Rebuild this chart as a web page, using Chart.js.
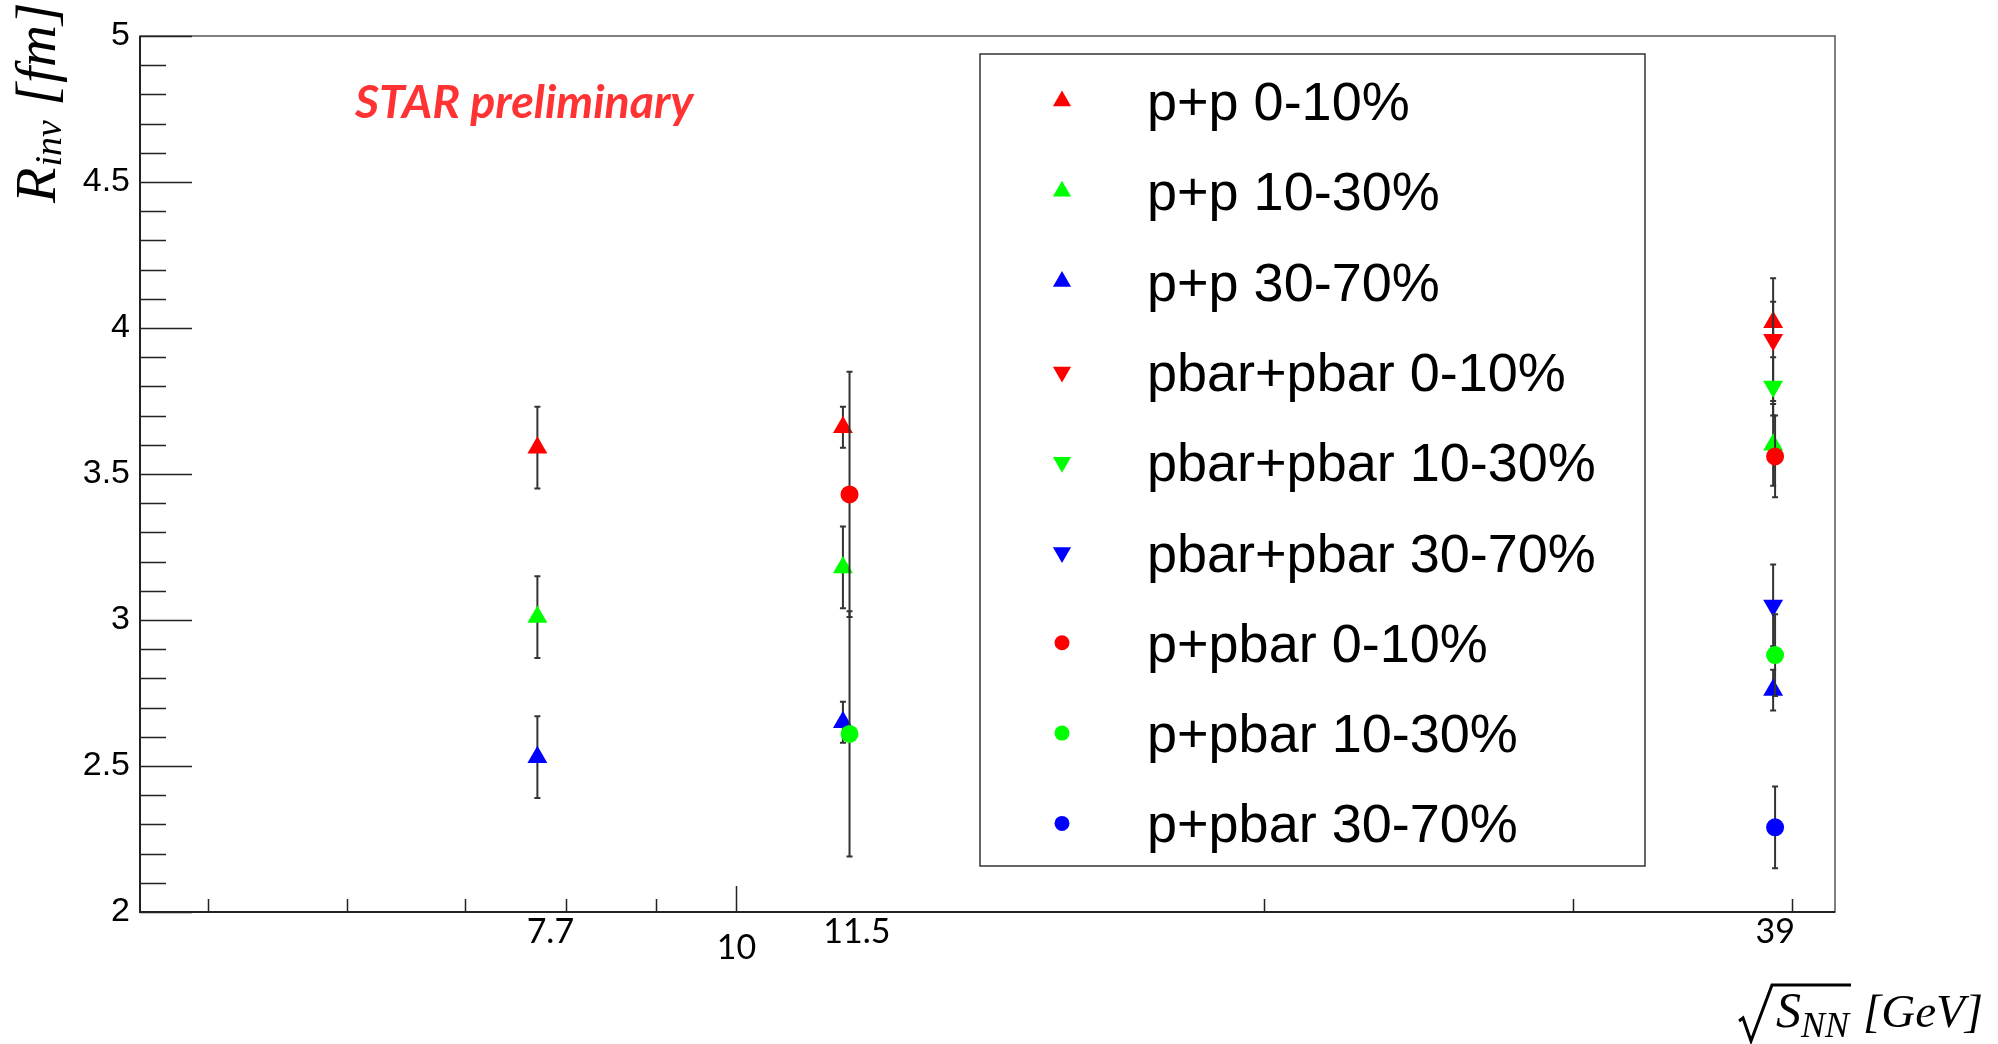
<!DOCTYPE html>
<html>
<head>
<meta charset="utf-8">
<script src="https://cdn.jsdelivr.net/npm/chart.js@4.4.1/dist/chart.umd.min.js"></script>
<style>
  html, body { margin: 0; padding: 0; background: #fff; }
  #wrap { width: 1998px; height: 1044px; }
</style>
</head>
<body>
<div id="wrap"><canvas id="rinv" width="1998" height="1044"></canvas></div>
<script>
// Collision energies (GeV) per pair type; p+pbar is nudged right so it doesn't hide behind p+p
const ppEnergies = [7.7, 11.5, 39];
const pbarEnergies = [39];
const ppbarEnergies = [11.6, 39.1];

// R_inv (fm) and errors
const pp0to10 = [3.59, 3.66, 4.02];
const pp0to10Err = [0.14, 0.07, 0.07];
const pp10to30 = [3.01, 3.18, 3.60];
const pp10to30Err = [0.14, 0.14, 0.14];
const pp30to70 = [2.53, 2.65, 2.76];
const pp30to70Err = [0.14, 0.07, 0.07];

const pbar0to10 = [3.96];
const pbar0to10Err = [0.21];
const pbar10to30 = [3.80];
const pbar10to30Err = [0.10];
const pbar30to70 = [3.05];
const pbar30to70Err = [0.14];

const ppbar0to10 = [3.43, 3.56];
const ppbar0to10Err = [0.42, 0.14];
const ppbar10to30 = [2.61, 2.88];
const ppbar10to30Err = [0.42, 0.14];
const ppbar30to70 = [null, 2.29];
const ppbar30to70Err = [null, 0.14];

// x axis labelling (log axis)
const energyLabels = ['7.7', '11.5', '39'];
const energyLabelShift = [13, 14, 2];
const decadeLabels = [10];
const xMinorTicks = [5, 6, 7, 8, 9, 20, 30, 40];

const RED = '#ff0000';
const GREEN = '#00ff00';
const BLUE = '#0000ff';

const series = [
  { label: 'p+p 0-10%', x: ppEnergies, y: pp0to10, err: pp0to10Err, color: RED, style: 'triangle', rot: 0 },
  { label: 'p+p 10-30%', x: ppEnergies, y: pp10to30, err: pp10to30Err, color: GREEN, style: 'triangle', rot: 0 },
  { label: 'p+p 30-70%', x: ppEnergies, y: pp30to70, err: pp30to70Err, color: BLUE, style: 'triangle', rot: 0 },
  { label: 'pbar+pbar 0-10%', x: pbarEnergies, y: pbar0to10, err: pbar0to10Err, color: RED, style: 'triangle', rot: 180 },
  { label: 'pbar+pbar 10-30%', x: pbarEnergies, y: pbar10to30, err: pbar10to30Err, color: GREEN, style: 'triangle', rot: 180 },
  { label: 'pbar+pbar 30-70%', x: pbarEnergies, y: pbar30to70, err: pbar30to70Err, color: BLUE, style: 'triangle', rot: 180 },
  { label: 'p+pbar 0-10%', x: ppbarEnergies, y: ppbar0to10, err: ppbar0to10Err, color: RED, style: 'circle', rot: 0 },
  { label: 'p+pbar 10-30%', x: ppbarEnergies, y: ppbar10to30, err: ppbar10to30Err, color: GREEN, style: 'circle', rot: 0 },
  { label: 'p+pbar 30-70%', x: ppbarEnergies, y: ppbar30to70, err: ppbar30to70Err, color: BLUE, style: 'circle', rot: 0 },
];

const datasets = series.map((s, i) => ({
  label: s.label,
  data: s.x.map((e, k) => ({ x: e, y: s.y[k] })),
  errors: s.err,
  pointStyle: s.style,
  rotation: s.rot,
  pointRadius: s.style === 'circle' ? 9 : 11.5,
  backgroundColor: s.color,
  borderColor: s.color,
  borderWidth: 0,
  showLine: false,
  // later series are painted on top
  order: -i,
}));

const SANS = '"Liberation Sans", Arial, sans-serif';
const SERIF = '"Liberation Serif", "DejaVu Serif", serif';

// Vertical error bars with small caps, drawn just before each series' markers
const errorBars = {
  id: 'errorBars',
  beforeDatasetDraw(chart, args) {
    const ds = chart.data.datasets[args.index];
    const yScale = chart.scales.y;
    const { ctx } = chart;
    ctx.save();
    ctx.strokeStyle = '#333';
    ctx.lineWidth = 2;
    args.meta.data.forEach((pt, k) => {
      const raw = ds.data[k];
      if (raw.y == null || ds.errors[k] == null) return;
      const top = yScale.getPixelForValue(raw.y + ds.errors[k]);
      const bot = yScale.getPixelForValue(raw.y - ds.errors[k]);
      ctx.beginPath();
      ctx.moveTo(pt.x, top);
      ctx.lineTo(pt.x, bot);
      ctx.moveTo(pt.x - 3, top);
      ctx.lineTo(pt.x + 3, top);
      ctx.moveTo(pt.x - 3, bot);
      ctx.lineTo(pt.x + 3, bot);
      ctx.stroke();
    });
    ctx.restore();
  },
};

// Frame, inward ticks and x labels
const frame = {
  id: 'frame',
  beforeDatasetsDraw(chart) {
    const { ctx, chartArea: a, scales: { x, y } } = chart;
    ctx.save();
    ctx.strokeStyle = '#555';
    ctx.lineWidth = 1.5;
    ctx.strokeRect(a.left, a.top, a.right - a.left, a.bottom - a.top);
    ctx.strokeStyle = '#222';
    ctx.lineWidth = 2;
    ctx.beginPath();
    ctx.moveTo(a.left, a.top);
    ctx.lineTo(a.left, a.bottom);
    ctx.lineTo(a.right, a.bottom);
    ctx.stroke();

    // y ticks: major every 0.5, minor every 0.1
    ctx.lineWidth = 1.5;
    ctx.beginPath();
    for (let k = 0; k <= 30; k += 1) {
      const py = Math.round(y.getPixelForValue(y.min + k * 0.1)) + 0.5;
      const len = k % 5 === 0 ? 52 : 26;
      ctx.moveTo(a.left, py);
      ctx.lineTo(a.left + len, py);
    }
    // x ticks on the log axis
    xMinorTicks.forEach((v) => {
      const px = Math.round(x.getPixelForValue(v)) + 0.5;
      ctx.moveTo(px, a.bottom);
      ctx.lineTo(px, a.bottom - 13);
    });
    decadeLabels.forEach((v) => {
      const px = Math.round(x.getPixelForValue(v)) + 0.5;
      ctx.moveTo(px, a.bottom);
      ctx.lineTo(px, a.bottom - 26);
    });
    ctx.stroke();

    ctx.fillStyle = '#000';
    ctx.textAlign = 'center';
    ctx.textBaseline = 'alphabetic';
    ctx.font = '34px Lato, "Open Sans", sans-serif';
    ppEnergies.forEach((e, k) => {
      ctx.fillText(energyLabels[k], x.getPixelForValue(e) + energyLabelShift[k], a.bottom + 31);
    });
    decadeLabels.forEach((v) => {
      ctx.fillText(String(v), x.getPixelForValue(v), a.bottom + 47);
    });
    ctx.restore();
  },
  afterDraw(chart) {
    const { ctx } = chart;
    ctx.save();

    // STAR preliminary tag
    ctx.fillStyle = '#ff3333';
    ctx.font = 'italic bold 46.5px Lato, "Open Sans", sans-serif';
    ctx.textAlign = 'left';
    ctx.textBaseline = 'alphabetic';
    ctx.fillText('STAR preliminary', 355, 118);

    // Legend box
    const box = { x: 980, y: 54, w: 665, h: 812 };
    ctx.fillStyle = '#fff';
    ctx.fillRect(box.x, box.y, box.w, box.h);
    ctx.strokeStyle = '#333';
    ctx.lineWidth = 1.5;
    ctx.strokeRect(box.x, box.y, box.w, box.h);
    ctx.font = `54px ${SANS}`;
    chart.data.datasets.forEach((ds, i) => {
      const cy = 101 + i * 90.3;
      ctx.fillStyle = ds.backgroundColor;
      Chart.helpers.drawPoint(ctx, {
        pointStyle: ds.pointStyle,
        rotation: ds.rotation,
        radius: ds.pointStyle === 'circle' ? 7.5 : 10.5,
        borderWidth: 0,
      }, 1062, cy);
      ctx.fillStyle = '#000';
      ctx.fillText(ds.label, 1147, cy + 19);
    });

    // y title: R_inv [fm], rotated
    ctx.fillStyle = '#000';
    ctx.translate(55, 203);
    ctx.rotate(-Math.PI / 2);
    let u = 0;
    ctx.font = `italic 58px ${SERIF}`;
    ctx.fillText('R', u, 0);
    u += ctx.measureText('R').width + 1;
    ctx.font = `italic 38px ${SERIF}`;
    ctx.fillText('inv', u, 6);
    u += ctx.measureText('inv').width;
    ctx.font = `italic 58px ${SERIF}`;
    ctx.fillText(' [fm]', u, 0);
    ctx.setTransform(1, 0, 0, 1, 0, 0);

    // x title: sqrt(S_NN) [GeV]
    let px = 1776;
    ctx.font = `italic 50px ${SERIF}`;
    ctx.fillText('S', px, 1027);
    px += ctx.measureText('S').width;
    ctx.font = `italic 36px ${SERIF}`;
    ctx.fillText('NN', px, 1037);
    px += ctx.measureText('NN').width + 2;
    ctx.strokeStyle = '#000';
    ctx.lineWidth = 3;
    ctx.beginPath();
    ctx.moveTo(1739, 1021);
    ctx.lineTo(1743, 1018);
    ctx.lineTo(1751, 1041);
    ctx.lineTo(1772, 985);
    ctx.lineTo(px, 985);
    ctx.stroke();
    ctx.font = `italic 47px ${SERIF}`;
    ctx.fillText('[GeV]', px + 12, 1027);
    ctx.restore();
  },
};

const ctx = document.getElementById('rinv');
// eslint-disable-next-line no-unused-vars
const chart = new Chart(ctx, {
  type: 'scatter',
  data: { datasets },
  options: {
    responsive: false,
    animation: false,
    devicePixelRatio: 1,
    events: [],
    layout: {
      padding: { left: 0, top: 36, right: 163, bottom: 132 },
    },
    scales: {
      x: {
        type: 'logarithmic',
        min: 4.57,
        max: 42.3,
        display: false,
      },
      y: {
        min: 2,
        max: 5,
        grid: { display: false, drawTicks: false },
        border: { display: false },
        ticks: {
          stepSize: 0.5,
          padding: 10,
          color: '#000',
          font: { family: SANS, size: 34 },
          callback: (value) => String(value),
        },
        afterFit(scale) {
          scale.width = 140;
        },
      },
    },
    plugins: {
      legend: { display: false },
      tooltip: { enabled: false },
    },
  },
  plugins: [errorBars, frame],
});
</script>
</body>
</html>
